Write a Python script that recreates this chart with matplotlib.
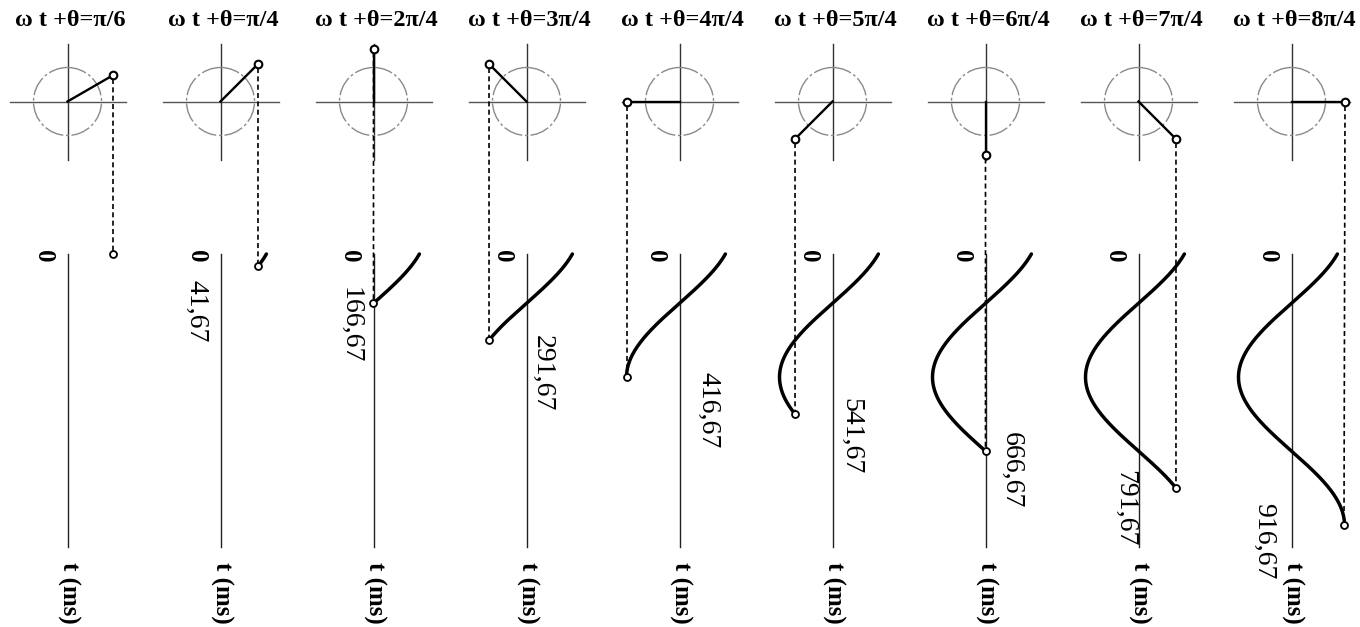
import numpy as np
import matplotlib
matplotlib.use("Agg")
import matplotlib.pyplot as plt
from matplotlib.patches import Circle

# ---------------- data ----------------
phase_labels = ["π/6", "π/4", "2π/4", "3π/4", "4π/4", "5π/4", "6π/4", "7π/4", "8π/4"]
phase_angles = [np.pi / 6, np.pi / 4, 2 * np.pi / 4, 3 * np.pi / 4, 4 * np.pi / 4,
                5 * np.pi / 4, 6 * np.pi / 4, 7 * np.pi / 4, 8 * np.pi / 4]
times_ms = [0.0, 41.67, 166.67, 291.67, 416.67, 541.67, 666.67, 791.67, 916.67]
time_labels = ["", "41,67", "166,67", "291,67", "416,67", "541,67", "666,67", "791,67", "916,67"]
period_ms = 1000.0
theta0 = np.pi / 6

# ---------------- layout (pixel-like data space) ----------------
W, H = 1360, 627
x0, dx = 67.5, 153.0          # panel centres
cy = 101.5                     # phasor centre y
R = 53.0                       # phasor length / wave amplitude
rc = 34.0                      # reference circle radius
cross = 58.0                   # half length of the cross
t_top = 254.0                  # y of t = 0
t_scale = 0.2956               # px per ms
axis_bottom = 547.0
lab_dx = [0, -24, -23, 16, 29, 18, 26, -14, -28]
lab_dy = [0, 14, -16, -5, -5, -16, -19, -18, -22]

fig = plt.figure(figsize=(W / 100, H / 100), dpi=100)
ax = fig.add_axes([0, 0, 1, 1])
ax.set_xlim(0, W)
ax.set_ylim(H, 0)
ax.axis("off")

serif = ["Liberation Serif", "DejaVu Serif"]

omega = 2 * np.pi / period_ms

for i, (lab, ang, tend, tlab) in enumerate(zip(phase_labels, phase_angles, times_ms, time_labels)):
    cx = x0 + i * dx
    # title
    ax.text(cx + 3, 20, "ω t +θ=" + lab, ha="center", va="center", fontsize=17.5,
            fontweight="bold", family=serif)
    # cross
    ax.plot([cx - cross, cx + cross], [cy, cy], color="#555555", lw=1.0, zorder=1)
    ax.plot([cx, cx], [cy - cross, cy + cross], color="#333333", lw=1.0, zorder=1)
    # reference circle
    ax.add_patch(Circle((cx, cy), rc, fill=False, ec="#8a8a8a", lw=1.0,
                        ls=(0, (14, 2, 2, 2)), zorder=1))
    # phasor
    tipx = cx + R * np.cos(ang)
    tipy = cy - R * np.sin(ang)
    ax.plot([cx, tipx], [cy, tipy], color="black", lw=1.7, zorder=3)
    ax.plot([tipx], [tipy], "o", ms=5.5, mfc="white", mec="black", mew=1.5, zorder=4)

    # time axis
    ax.plot([cx, cx], [t_top, axis_bottom], color="#222222", lw=1.0, zorder=1)
    ax.text(cx - 24, t_top + 2, "0", rotation=-90, ha="center", va="center",
            fontsize=18, fontweight="bold", family=serif)
    ax.text(cx + 1, 562, "t (ms)", rotation=-90, ha="center", va="top",
            fontsize=18, fontweight="bold", family=serif)

    # wave
    t = np.linspace(0, tend, 300)
    xs = cx + R * np.cos(omega * t + theta0)
    ys = t_top + t * t_scale
    ax.plot(xs, ys, color="black", lw=2.5, solid_capstyle="round", zorder=3)
    ex, ey = xs[-1], ys[-1]
    ax.plot([ex], [ey], "o", ms=5, mfc="white", mec="black", mew=1.3, zorder=4)

    # projection line
    ax.plot([tipx, ex], [tipy + 4, ey - 3], color="black", lw=1.2,
            ls=(0, (3, 2)), zorder=2)

    # time label
    if tlab:
        ax.text(cx + lab_dx[i], ey + lab_dy[i], tlab, rotation=-90, ha="center",
                va="top", fontsize=20, family=serif)

fig.savefig("out.png", dpi=100)
